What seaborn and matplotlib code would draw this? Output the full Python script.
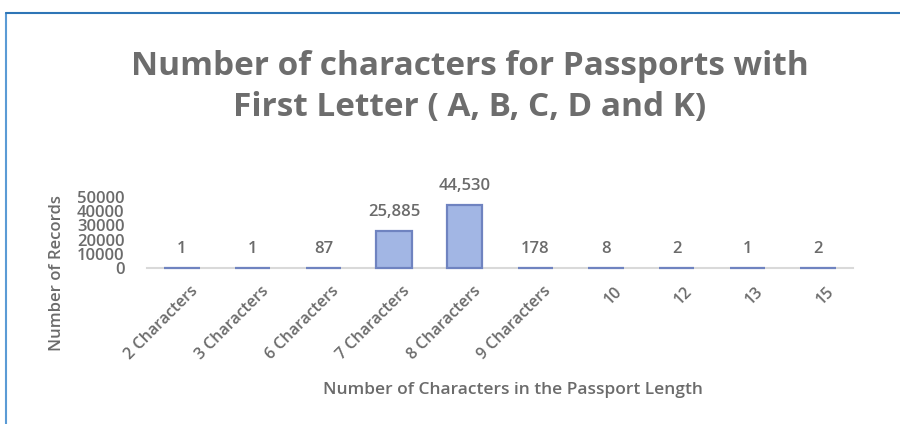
import matplotlib
matplotlib.use('Agg')
import matplotlib.pyplot as plt
from matplotlib.lines import Line2D
from matplotlib.transforms import ScaledTranslation
import seaborn as sns

# passport length categories and record counts
lengths = ['2 Characters', '3 Characters', '6 Characters', '7 Characters',
           '8 Characters', '9 Characters', '10', '12', '13', '15']
records = [1, 1, 87, 25885, 44530, 178, 8, 2, 1, 2]
y_ticks = [0, 10000, 20000, 30000, 40000, 50000]

sns.set_style('white')
plt.rcParams['font.family'] = ['Open Sans', 'DejaVu Sans']

grey = '#6b6b6b'

fig = plt.figure(figsize=(9, 4.24), dpi=100)
ax = fig.add_axes([0.163, 0.368, 0.785, 0.167])

sns.barplot(x=lengths, y=records, color='#a2b6e4', edgecolor='#6f83c0',
            linewidth=1.6, width=0.5, saturation=1, ax=ax, zorder=3)
for p in ax.patches:
    p.set_clip_on(False)

ax.set_ylim(0, 50000)
ax.set_yticks(y_ticks)
ax.set_yticklabels([str(t) for t in y_ticks], fontsize=12, color=grey,
                   fontweight='semibold')
ax.tick_params(axis='y', length=0, pad=16)
ax.tick_params(axis='x', length=0, pad=11)
ax.set_xticks(range(len(lengths)))
ax.set_xticklabels(lengths, rotation=45, ha='right', rotation_mode='anchor',
                   fontsize=11.5, color=grey, fontweight='semibold')
shift = ScaledTranslation(8 / 100, 0, fig.dpi_scale_trans)
for lab in ax.get_xticklabels():
    lab.set_transform(lab.get_transform() + shift)
ax.set_xlim(-0.5, len(lengths) - 0.5)

for s in ['top', 'right', 'left']:
    ax.spines[s].set_visible(False)
ax.spines['bottom'].set_color('#d9d9d9')
ax.spines['bottom'].set_linewidth(1.5)
ax.spines['bottom'].set_zorder(1)
ax.set_xlabel('')
ax.set_ylabel('')

ax.bar_label(ax.containers[0], labels=[f'{v:,}' for v in records],
             padding=8, fontsize=12, color=grey, fontweight='semibold')

fig.text(0.522, 0.795, 'Number of characters for Passports with\nFirst Letter ( A, B, C, D and K)',
         ha='center', va='center', fontsize=24, fontweight='bold',
         color='#6d6d6d', linespacing=1.32)
fig.text(0.063, 0.355, 'Number of Records', rotation=90, ha='center',
         va='center', fontsize=12, color=grey, fontweight='semibold')
fig.text(0.57, 0.08, 'Number of Characters in the Passport Length',
         ha='center', va='center', fontsize=12.5, color=grey,
         fontweight='semibold')

# blue frame on the left and top edges
fig.add_artist(Line2D([6 / 900, 6 / 900], [0, 1 - 13 / 424],
                      transform=fig.transFigure, color='#5b9bd5', lw=1.5))
fig.add_artist(Line2D([6 / 900, 1], [1 - 13 / 424, 1 - 13 / 424],
                      transform=fig.transFigure, color='#2e75b6', lw=1.5))

fig.savefig('out.png', dpi=100)
